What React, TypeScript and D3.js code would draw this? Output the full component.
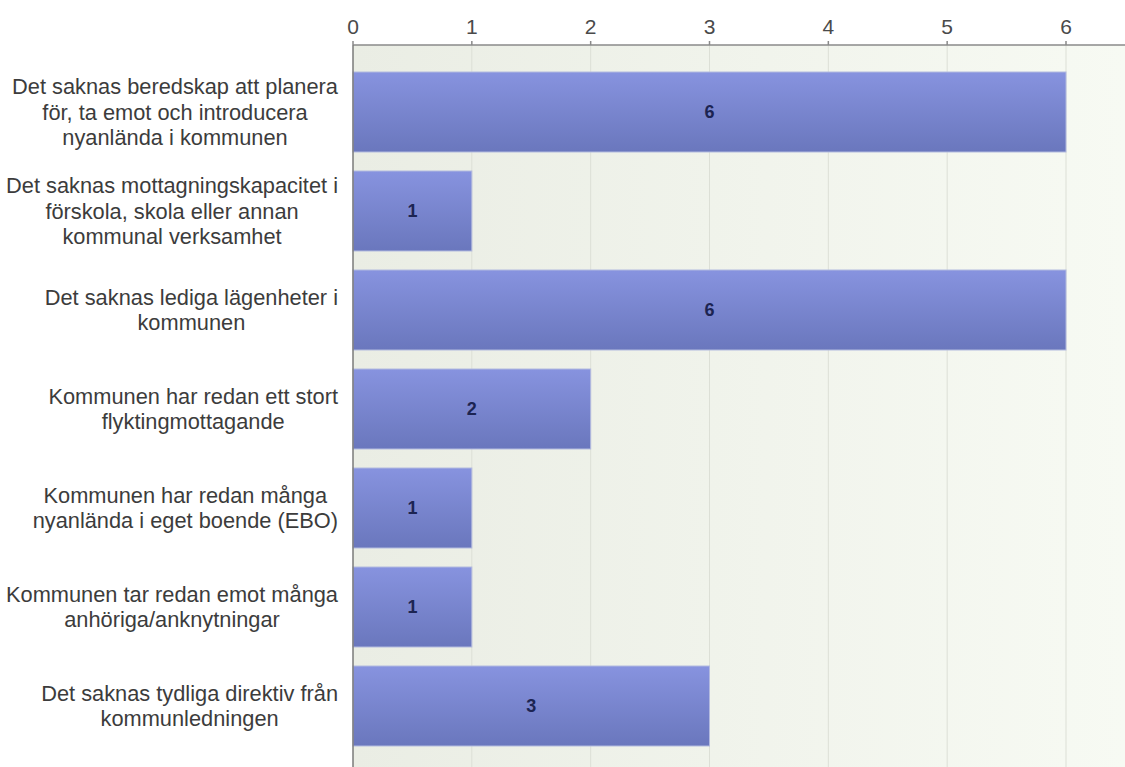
import React, { useEffect, useRef } from "react";
import * as d3 from "d3";

const categories: string[][] = [
  ["Det saknas beredskap att planera", "för, ta emot och introducera", "nyanlända i kommunen"],
  ["Det saknas mottagningskapacitet i", "förskola, skola eller annan", "kommunal verksamhet"],
  ["Det saknas lediga lägenheter i", "kommunen"],
  ["Kommunen har redan ett stort", "flyktingmottagande"],
  ["Kommunen har redan många", "nyanlända i eget boende (EBO)"],
  ["Kommunen tar redan emot många", "anhöriga/anknytningar"],
  ["Det saknas tydliga direktiv från", "kommunledningen"],
];
const values: number[] = [6, 1, 6, 2, 1, 1, 3];
const tickValues: number[] = [0, 1, 2, 3, 4, 5, 6];

const W = 1125;
const H = 767;
const FONT = "'Liberation Sans', Arial, sans-serif";

export default function App() {
  const ref = useRef<SVGSVGElement | null>(null);

  useEffect(() => {
    const svg = d3.select(ref.current);
    svg.selectAll("*").remove();

    const x0 = 353;
    const x = d3.scaleLinear().domain([0, 6]).range([x0, 1066]);
    const axisY = 45;
    const keys = categories.map((_, i) => String(i));
    const y = d3
      .scaleBand<string>()
      .domain(keys)
      .range([62.5, 755.5])
      .paddingInner(0.192)
      .paddingOuter(0.096);

    const defs = svg.append("defs");
    const bg = defs.append("linearGradient").attr("id", "bg").attr("x1", 0).attr("x2", 1).attr("y1", 0).attr("y2", 0);
    bg.append("stop").attr("offset", "0%").attr("stop-color", "#eaede4");
    bg.append("stop").attr("offset", "100%").attr("stop-color", "#f7faf3");
    const bar = defs.append("linearGradient").attr("id", "bar").attr("x1", 0).attr("x2", 0).attr("y1", 0).attr("y2", 1);
    bar.append("stop").attr("offset", "0%").attr("stop-color", "#8793df");
    bar.append("stop").attr("offset", "100%").attr("stop-color", "#6a77bd");

    svg.append("rect").attr("x", 0).attr("y", 0).attr("width", W).attr("height", H).attr("fill", "#ffffff");
    svg.append("rect").attr("x", x0).attr("y", axisY).attr("width", W - x0).attr("height", H - axisY).attr("fill", "url(#bg)");

    // gridlines
    svg
      .append("g")
      .selectAll("line")
      .data(tickValues.slice(1))
      .join("line")
      .attr("x1", (d) => x(d))
      .attr("x2", (d) => x(d))
      .attr("y1", axisY)
      .attr("y2", H)
      .attr("stroke", "#dcdfd6")
      .attr("stroke-width", 1);

    // bars
    const g = svg.append("g");
    g.selectAll("rect")
      .data(values)
      .join("rect")
      .attr("x", x(0))
      .attr("y", (_, i) => y(keys[i])!)
      .attr("width", (d) => x(d) - x(0))
      .attr("height", y.bandwidth())
      .attr("fill", "url(#bar)")
      .attr("stroke", "#b3badf")
      .attr("stroke-width", 1);

    g.selectAll("text")
      .data(values)
      .join("text")
      .attr("x", (d) => (x(0) + x(d)) / 2)
      .attr("y", (_, i) => y(keys[i])! + y.bandwidth() / 2)
      .attr("dy", "0.36em")
      .attr("text-anchor", "middle")
      .attr("font-family", FONT)
      .attr("font-size", 18)
      .attr("font-weight", "bold")
      .attr("fill", "#1c2452")
      .text((d) => String(d));

    // top axis
    const ax = svg.append("g");
    ax.append("line").attr("x1", x0).attr("x2", W).attr("y1", axisY).attr("y2", axisY).attr("stroke", "#8a8a8a").attr("stroke-width", 1.5);
    ax.append("line").attr("x1", x0).attr("x2", x0).attr("y1", axisY).attr("y2", H).attr("stroke", "#7a7a7a").attr("stroke-width", 1.5);
    ax.selectAll("line.tick")
      .data(tickValues)
      .join("line")
      .attr("class", "tick")
      .attr("x1", (d) => x(d))
      .attr("x2", (d) => x(d))
      .attr("y1", axisY - 4)
      .attr("y2", axisY)
      .attr("stroke", "#8a8a8a")
      .attr("stroke-width", 1.5);
    ax.selectAll("text")
      .data(tickValues)
      .join("text")
      .attr("x", (d) => x(d))
      .attr("y", 34)
      .attr("text-anchor", "middle")
      .attr("font-family", FONT)
      .attr("font-size", 21)
      .attr("fill", "#4a4a4a")
      .text((d) => String(d));

    // category labels: centered block, right aligned at 337
    const lineH = 25.5;
    const lg = svg.append("g");
    categories.forEach((lines, i) => {
      const cy = y(keys[i])! + y.bandwidth() / 2;
      const t = lg
        .append("text")
        .attr("font-family", FONT)
        .attr("font-size", 21.8)
        .attr("fill", "#3c3c3c")
        .attr("text-anchor", "middle");
      const spans = t
        .selectAll("tspan")
        .data(lines)
        .join("tspan")
        .attr("y", (_, j) => cy + (j - (lines.length - 1) / 2) * lineH)
        .attr("dy", "0.35em")
        .text((d) => d);
      let maxW = 0;
      spans.each(function () {
        const w = (this as SVGTSpanElement).getComputedTextLength();
        if (w > maxW) maxW = w;
      });
      spans.attr("x", 338 - maxW / 2);
    });
  }, []);

  return (
    <div style={{ position: "absolute", left: 0, top: 0 }}>
      <svg ref={ref} width={W} height={H} style={{ display: "block" }} />
    </div>
  );
}
